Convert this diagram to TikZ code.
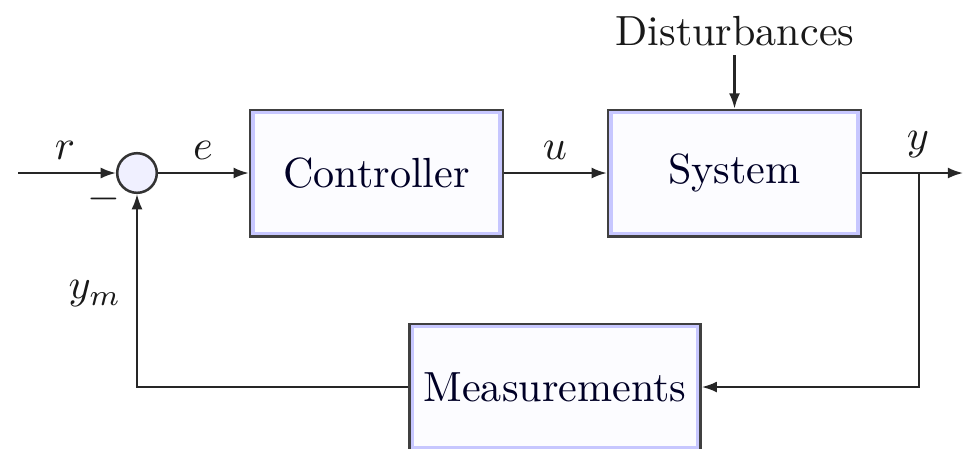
\documentclass[tikz,border=0pt]{standalone}
\usetikzlibrary{arrows.meta,calc}
\begin{document}
\begin{tikzpicture}[x=0.2372pt,y=-0.2372pt,
  blockbox/.style={rectangle, draw=black!75, line width=0.6pt, fill=blue!22,
    minimum width=60pt, minimum height=30pt, text=black!85!blue,
    path picture={\fill[white!99!blue] ([shift={(1.1pt,1.1pt)}]path picture bounding box.south west) rectangle ([shift={(-1.1pt,-1.1pt)}]path picture bounding box.north east);}},
  sumnode/.style={circle, draw=black!80, line width=0.6pt, fill=blue!6, minimum size=9.4pt, inner sep=0pt},
  sig/.style={draw=black!85, line width=0.5pt},
  arr/.style={sig, -{Latex[length=3.6pt,width=2.6pt]}},
  lbl/.style={inner sep=0pt, text=black!90}]
\useasboundingbox (0,0) rectangle (964,448);
\node[sumnode] (sum) at (137,173) {};
\node[blockbox] (ctrl) at (376.5,173) {Controller};
\node[blockbox] (sys) at (734.5,173) {System};
\node[blockbox] (meas) at (555,387) {Measurements};
\coordinate (in) at (18,173);
\coordinate (out) at (963,173);
\coordinate (br) at (919,173);
\coordinate (dtop) at (734.5,55);
\node[lbl] (dist) at (735,31) {Disturbances};
\node[lbl] (rl) at (65,150) {$r$};
\node[lbl] (el) at (203,150) {$e$};
\node[lbl] (ul) at (555,150) {$u$};
\node[lbl] (yl) at (918,145) {$y$};
\node[lbl] (yml) at (95,294) {$y_m$};
\node[lbl] (minus) at (104,199) {$-$};
\draw[arr] (in) -- (sum);
\draw[arr] (sum) -- (ctrl);
\draw[arr] (ctrl) -- (sys);
\draw[arr] (sys) -- (out);
\draw[arr] (dtop) -- (sys.north);
\draw[arr] (br) |- (meas);
\draw[arr] (meas) -| (sum);
\end{tikzpicture}
\end{document}
